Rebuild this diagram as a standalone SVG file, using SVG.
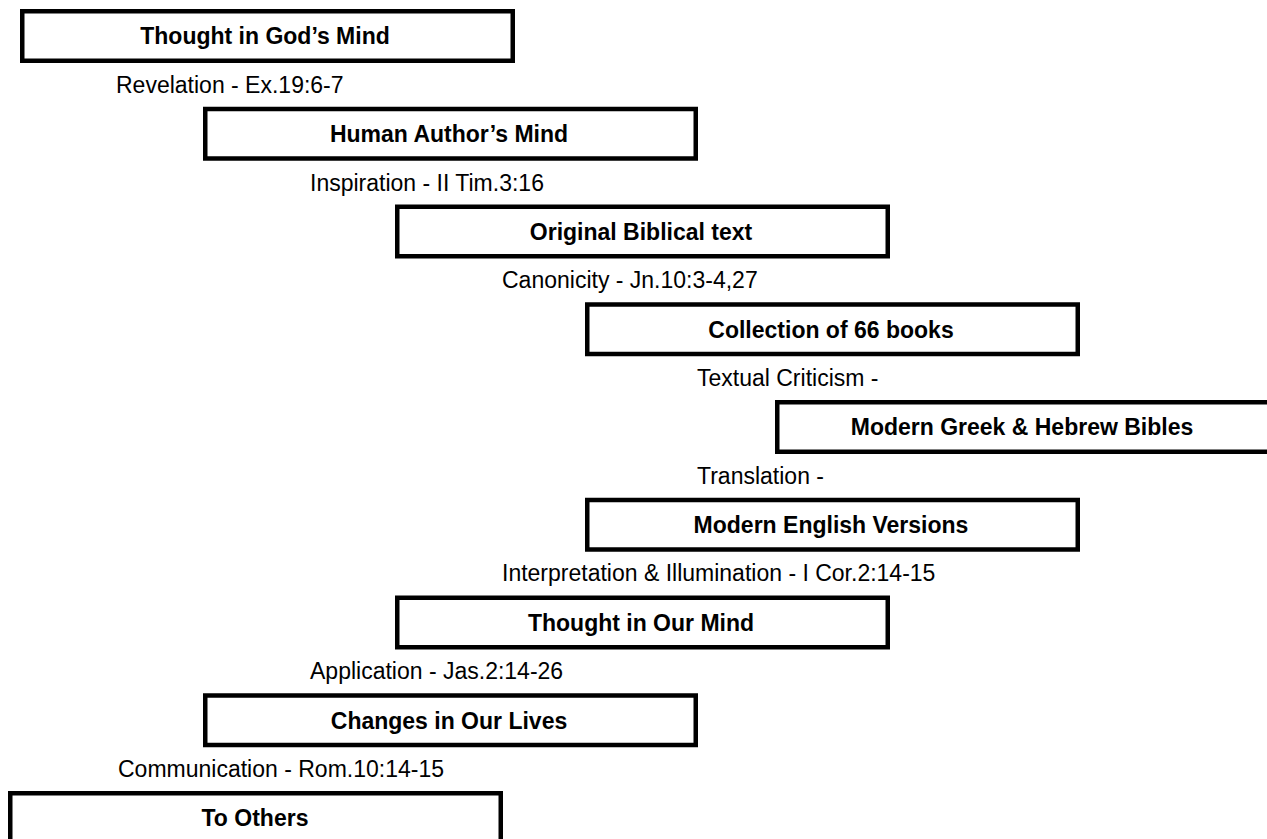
<svg xmlns="http://www.w3.org/2000/svg" width="1267" height="839" viewBox="0 0 1267 839">
<style>
.box{fill:#fff;stroke:#000;stroke-width:4.5}
.bt{font-family:"Liberation Sans",Arial,sans-serif;font-weight:bold;font-size:23px;fill:#000;text-anchor:middle}
.lb{font-family:"Liberation Sans",Arial,sans-serif;font-size:23px;fill:#000}
</style>
<rect width="1267" height="839" fill="#fff"/>
<g id="connectors">
<text class="lb" x="116" y="93">Revelation - Ex.19:6-7</text>
<text class="lb" x="310" y="191">Inspiration - II Tim.3:16</text>
<text class="lb" x="502" y="288">Canonicity - Jn.10:3-4,27</text>
<text class="lb" x="697" y="386">Textual Criticism -</text>
<text class="lb" x="697" y="484">Translation -</text>
<text class="lb" x="502" y="581">Interpretation &amp; Illumination - I Cor.2:14-15</text>
<text class="lb" x="310" y="679">Application - Jas.2:14-26</text>
<text class="lb" x="118" y="777">Communication - Rom.10:14-15</text>
</g>
<g id="n1"><rect class="box" x="22.25" y="11.25" width="490.5" height="49.5"/><text class="bt" x="265" y="44">Thought in God’s Mind</text></g>
<g id="n2"><rect class="box" x="205.25" y="109" width="490.5" height="49.5"/><text class="bt" x="449" y="142">Human Author’s Mind</text></g>
<g id="n3"><rect class="box" x="397.25" y="206.75" width="490.5" height="49.5"/><text class="bt" x="641" y="240">Original Biblical text</text></g>
<g id="n4"><rect class="box" x="587.25" y="304.5" width="490.5" height="49.5"/><text class="bt" x="831" y="338">Collection of 66 books</text></g>
<g id="n5"><rect class="box" x="777.25" y="402.25" width="500" height="49.5"/><text class="bt" x="1022" y="435">Modern Greek &amp; Hebrew Bibles</text></g>
<g id="n6"><rect class="box" x="587.25" y="500" width="490.5" height="49.5"/><text class="bt" x="831" y="533">Modern English Versions</text></g>
<g id="n7"><rect class="box" x="397.25" y="597.75" width="490.5" height="49.5"/><text class="bt" x="641" y="631">Thought in Our Mind</text></g>
<g id="n8"><rect class="box" x="205.25" y="695.5" width="490.5" height="49.5"/><text class="bt" x="449" y="729">Changes in Our Lives</text></g>
<g id="n9"><rect class="box" x="10.25" y="793.25" width="490.5" height="49.5"/><text class="bt" x="255" y="826">To Others</text></g>
</svg>
